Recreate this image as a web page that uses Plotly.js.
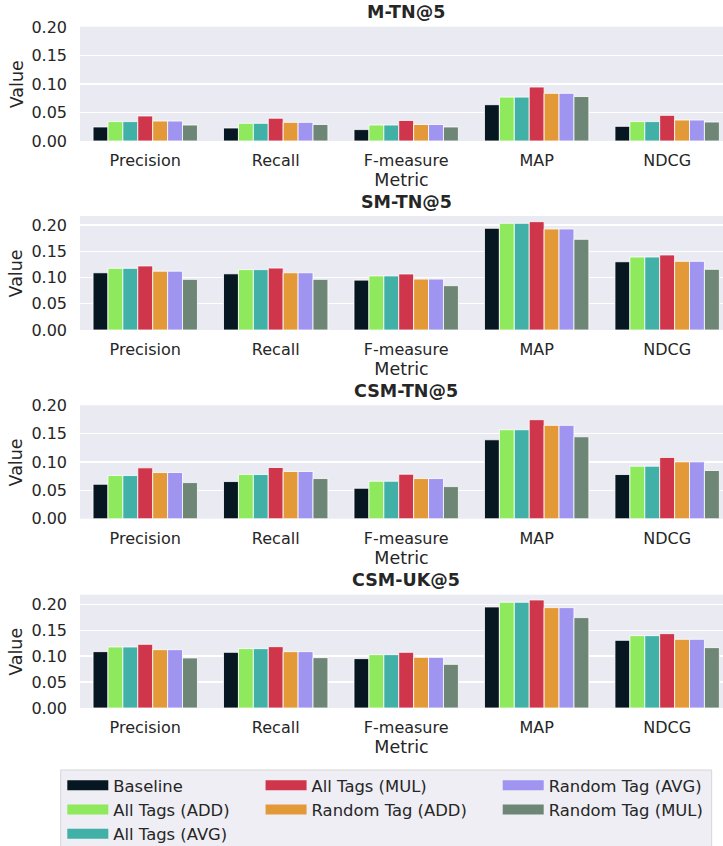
<!DOCTYPE html>
<html>
<head>
<meta charset="utf-8">
<script src="https://cdn.plot.ly/plotly-3.0.1.min.js"></script>
<style>
html,body{margin:0;padding:0;background:#fff;overflow:hidden;}
#chart{width:723px;height:846px;}
</style>
</head>
<body>
<div id="chart"></div>
<script>
// ---------------- data ----------------
const metrics = ['Precision', 'Recall', 'F-measure', 'MAP', 'NDCG'];
const seriesNames = ['Baseline', 'All Tags (ADD)', 'All Tags (AVG)', 'All Tags (MUL)',
                     'Random Tag (ADD)', 'Random Tag (AVG)', 'Random Tag (MUL)'];
const seriesColors = ['#071722', '#8ee95c', '#41b1a7', '#cf364b', '#e49938', '#9f95f0', '#6e8676'];
const panelTitles = ['M-TN@5', 'SM-TN@5', 'CSM-TN@5', 'CSM-UK@5'];

// rows follow seriesNames, columns follow metrics
const M_TN = [
  [0.0246, 0.0228, 0.0200, 0.0637, 0.0257],
  [0.0340, 0.0310, 0.0280, 0.0770, 0.0340],
  [0.0340, 0.0310, 0.0280, 0.0770, 0.0340],
  [0.0439, 0.0400, 0.0360, 0.0947, 0.0450],
  [0.0350, 0.0327, 0.0290, 0.0836, 0.0368],
  [0.0350, 0.0327, 0.0290, 0.0836, 0.0368],
  [0.0280, 0.0290, 0.0246, 0.0780, 0.0333]
];
const SM_TN = [
  [0.1090, 0.1070, 0.0950, 0.1937, 0.1300],
  [0.1175, 0.1150, 0.1030, 0.2032, 0.1390],
  [0.1175, 0.1150, 0.1030, 0.2032, 0.1390],
  [0.1220, 0.1180, 0.1067, 0.2063, 0.1429],
  [0.1120, 0.1090, 0.0970, 0.1924, 0.1308],
  [0.1120, 0.1090, 0.0970, 0.1924, 0.1308],
  [0.0965, 0.0965, 0.0844, 0.1727, 0.1156]
];
const CSM_TN = [
  [0.0608, 0.0655, 0.0537, 0.1392, 0.0779],
  [0.0761, 0.0779, 0.0661, 0.1569, 0.0926],
  [0.0761, 0.0779, 0.0661, 0.1569, 0.0926],
  [0.0897, 0.0903, 0.0785, 0.1746, 0.1080],
  [0.0814, 0.0832, 0.0708, 0.1646, 0.1003],
  [0.0814, 0.0832, 0.0708, 0.1646, 0.1003],
  [0.0637, 0.0708, 0.0566, 0.1445, 0.0850]
];
const CSM_UK = [
  [0.1087, 0.1074, 0.0952, 0.1949, 0.1305],
  [0.1177, 0.1145, 0.1029, 0.2039, 0.1395],
  [0.1177, 0.1145, 0.1029, 0.2039, 0.1395],
  [0.1228, 0.1183, 0.1074, 0.2084, 0.1434],
  [0.1125, 0.1087, 0.0977, 0.1936, 0.1325],
  [0.1125, 0.1087, 0.0977, 0.1936, 0.1325],
  [0.0965, 0.0971, 0.0842, 0.1743, 0.1164]
];
const panels = [M_TN, SM_TN, CSM_TN, CSM_UK];
const yTop = [0.2005, 0.2171, 0.2, 0.2185];

// legend columns (indices into seriesNames)
const legendCols = [[0, 1, 2], [3, 4], [5, 6]];

// ---------------- build ----------------
const textColor = '#262626';
const FONT = 'DejaVu Sans, sans-serif';
const domains = [[0.83333, 0.96844], [0.60993, 0.74468], [0.38688, 0.52092], [0.16312, 0.29704]];

const traces = [];
panels.forEach((panel, p) => {
  const xa = p === 0 ? 'x' : 'x' + (p + 1);
  const ya = p === 0 ? 'y' : 'y' + (p + 1);
  panel.forEach((vals, s) => {
    traces.push({
      type: 'bar', x: metrics, y: vals, name: seriesNames[s],
      xaxis: xa, yaxis: ya, showlegend: false,
      marker: {color: seriesColors[s], line: {color: '#ffffff', width: 0.8}},
      hoverinfo: 'x+y+name'
    });
  });
});
// legend entries
legendCols.forEach((col, c) => {
  col.forEach(s => {
    traces.push({
      type: 'scatter', mode: 'lines', x: [null], y: [null],
      xaxis: 'x4', yaxis: 'y4', name: seriesNames[s],
      line: {color: seriesColors[s], width: 10},
      legend: c === 0 ? 'legend' : 'legend' + (c + 1),
      showlegend: true, hoverinfo: 'skip'
    });
  });
});

const layout = {
  width: 723, height: 846,
  margin: {l: 80, r: 0, t: 0, b: 0, pad: 0, autoexpand: false},
  paper_bgcolor: '#ffffff',
  plot_bgcolor: '#eaeaf2',
  barmode: 'group', bargap: 0.2, bargroupgap: 0,
  font: {family: FONT, color: textColor, size: 16},
  annotations: [],
  shapes: [{
    type: 'rect', xref: 'paper', yref: 'paper',
    x0: -0.0300, x1: 0.9824, y0: -0.05, y1: 0.0898,
    fillcolor: '#eeeef4', line: {color: '#d6d6d6', width: 1},
    layer: 'below'
  }]
};

panels.forEach((panel, p) => {
  const sfx = p === 0 ? '' : String(p + 1);
  layout['xaxis' + sfx] = {
    domain: [0, 1], anchor: 'y' + sfx,
    type: 'category', range: [-0.5, 4.428],
    showgrid: false, zeroline: false, showline: false, ticks: '',
    tickfont: {family: FONT, size: 16, color: textColor},
    ticklabelstandoff: 8, automargin: false,
    title: {text: 'Metric', font: {family: FONT, size: 17.5, color: textColor}, standoff: 4},
    fixedrange: true
  };
  layout['yaxis' + sfx] = {
    domain: domains[p], anchor: 'x' + sfx,
    range: [0, yTop[p]], dtick: 0.05, tick0: 0, tickformat: '.2f',
    showgrid: true, gridcolor: '#ffffff', gridwidth: 1.3,
    zeroline: false, showline: false, ticks: '',
    tickfont: {family: FONT, size: 16, color: textColor},
    ticklabelstandoff: 12, automargin: false,
    fixedrange: true
  };
  // panel title
  layout.annotations.push({
    text: panelTitles[p], xref: 'x' + sfx, yref: 'y' + sfx + ' domain',
    x: 2, y: 1, xanchor: 'center', yanchor: 'middle', yshift: 14.5,
    showarrow: false,
    font: {family: FONT, size: 17.5, color: textColor, weight: 'bold'}
  });
  // y-axis title
  layout.annotations.push({
    text: 'Value', xref: 'paper', yref: 'y' + sfx + ' domain',
    x: -0.0988, y: 0.5, xanchor: 'center', yanchor: 'middle', textangle: -90,
    showarrow: false,
    font: {family: FONT, size: 17.5, color: textColor}
  });
});

const legendX = [0.08617, 0.3604, 0.6884];
['legend', 'legend2', 'legend3'].forEach((key, i) => {
  layout[key] = {
    xref: 'container', yref: 'container',
    x: legendX[i], xanchor: 'left', y: 0.0922, yanchor: 'top',
    orientation: 'v', bgcolor: 'rgba(0,0,0,0)', borderwidth: 0,
    font: {family: FONT, size: 16.4, color: textColor},
    itemwidth: 41, traceorder: 'normal'
  };
});

Plotly.newPlot('chart', traces, layout, {displayModeBar: false, staticPlot: true});
</script>
</body>
</html>
